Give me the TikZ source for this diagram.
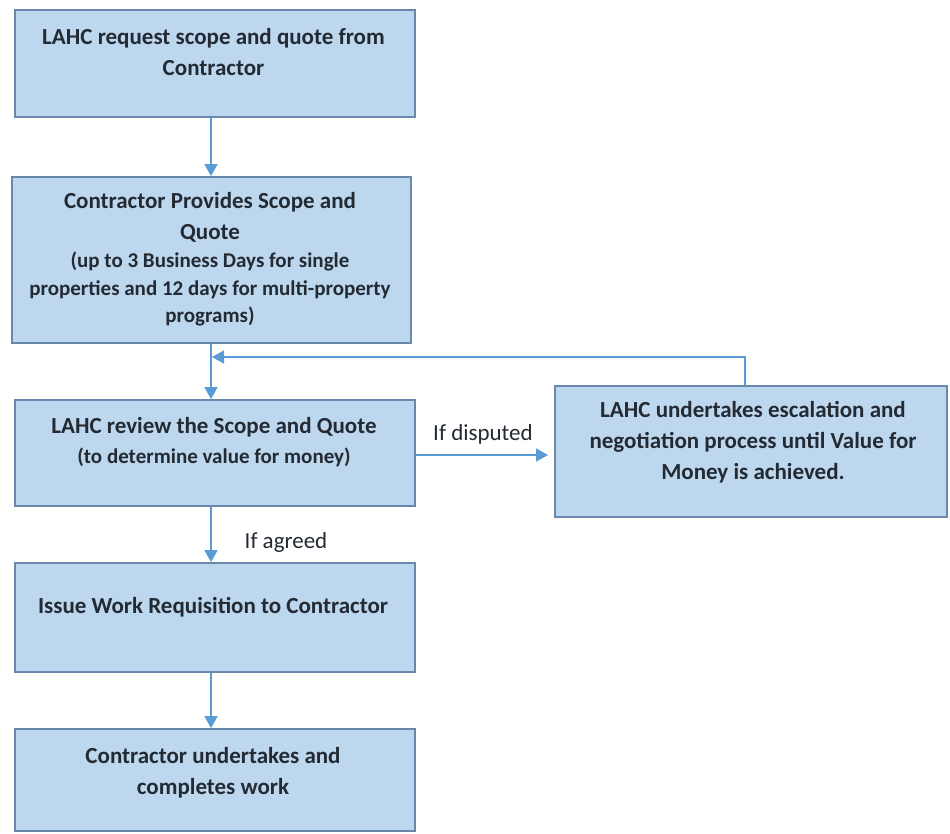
\documentclass[tikz,border=0pt]{standalone}
\usepackage{fontspec}
\setmainfont{Carlito}
\usetikzlibrary{arrows.meta}
\definecolor{boxfill}{HTML}{BDD7EE}
\definecolor{boxline}{HTML}{6888AC}
\definecolor{arrowc}{HTML}{5B9BD5}
\definecolor{txt}{HTML}{232A33}
\begin{document}
\begin{tikzpicture}[x=1pt,y=-1pt,
  box/.style={draw=boxline, line width=1.8pt, fill=boxfill, rectangle, inner sep=0pt},
  lbl/.style={align=center, font=\bfseries\fontsize{23}{31}\selectfont, text=txt, inner sep=0pt},
  sub/.style={align=center, font=\bfseries\fontsize{21}{27.5}\selectfont, text=txt, inner sep=0pt},
  plain/.style={font=\fontsize{23}{28}\selectfont, text=txt, inner sep=0pt},
  conn/.style={draw=arrowc, line width=1.6pt, -{Triangle[width=13pt,length=12pt]}}]
\useasboundingbox (0,0) rectangle (950,833);
% boxes
\node[box, minimum width=400pt, minimum height=107pt] (b1) at (215,63.5) {};
\node[box, minimum width=399pt, minimum height=166pt] (b2) at (211.5,260) {};
\node[box, minimum width=400pt, minimum height=106pt] (b3) at (215,453) {};
\node[box, minimum width=392pt, minimum height=131pt] (b4) at (751,451.5) {};
\node[box, minimum width=400pt, minimum height=109pt] (b5) at (215,617.5) {};
\node[box, minimum width=400pt, minimum height=102pt] (b6) at (215,780) {};
% texts
\node[lbl, anchor=north] (t1) at (213.5,28) {LAHC request scope and quote from\\Contractor};
\node[lbl, anchor=north] (t2) at (210,192) {Contractor Provides Scope and\\Quote};
\node[sub, anchor=north] (t2b) at (210,252) {(up to 3 Business Days for single\\properties and 12 days for multi-property\\programs)};
\node[lbl, anchor=north] (t3) at (214,417) {LAHC review the Scope and Quote};
\node[sub, anchor=north] (t3b) at (214,448) {(to determine value for money)};
\node[lbl, anchor=north] (t4) at (753,401) {LAHC undertakes escalation and\\negotiation process until Value for\\Money is achieved.};
\node[lbl, anchor=north] (t5) at (213,597) {Issue Work Requisition to Contractor};
\node[lbl, anchor=north] (t6) at (213,747) {Contractor undertakes and\\completes work};
% labels
\node[plain, anchor=base] (ld) at (483,440) {If disputed};
\node[plain, anchor=base] (la) at (286,548) {If agreed};
% connectors
\coordinate (x1) at (211,0);
\draw[conn] (b1.south -| x1) -- (b2.north -| x1);
\draw[conn] (b2.south -| x1) -- (b3.north -| x1);
\draw[conn] (b3.south -| x1) -- (b5.north -| x1);
\draw[conn] (b5.south -| x1) -- (b6.north -| x1);
\coordinate (yd) at (0,455);
\coordinate (de) at (548,455);
\draw[conn] (b3.east |- yd) -- (de);
\coordinate (fb) at (745,357);
\coordinate (fe) at (212,357);
\draw[conn] (b4.north -| fb) -- (fb) -- (fe);
\end{tikzpicture}
\end{document}
